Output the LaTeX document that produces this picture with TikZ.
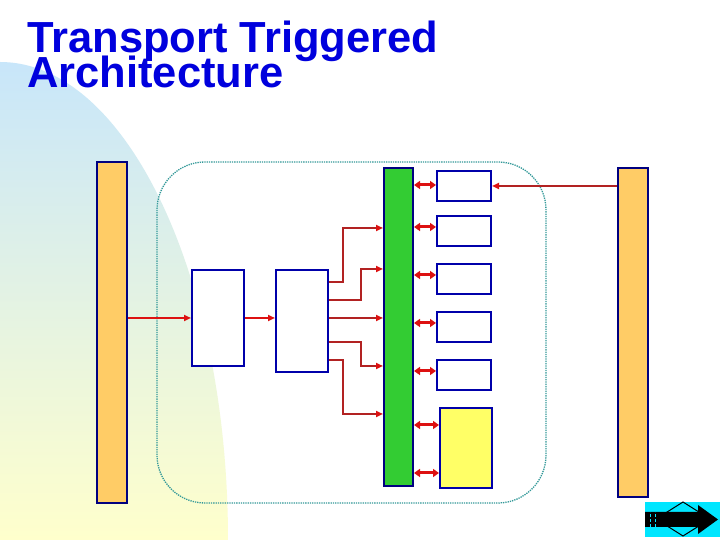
\documentclass[tikz,border=0pt]{standalone}
\usepackage{fontspec}
\setmainfont{Liberation Sans}
\usetikzlibrary{arrows.meta, calc}

\definecolor{titleblue}{RGB}{0,0,221}
\definecolor{barorange}{RGB}{255,204,102}
\definecolor{busgreen}{RGB}{51,204,51}
\definecolor{memyellow}{RGB}{255,255,102}
\definecolor{edgenavy}{RGB}{0,0,128}
\definecolor{boxblue}{RGB}{0,0,170}
\definecolor{wirered}{RGB}{221,17,17}
\definecolor{wiredark}{RGB}{178,34,34}
\definecolor{dotteal}{RGB}{51,153,153}
\definecolor{navcyan}{RGB}{0,230,255}
\definecolor{blobblue}{RGB}{200,230,250}
\definecolor{blobyellow}{RGB}{255,255,204}

\tikzset{
    bar/.style={draw=edgenavy, line width=2pt, fill=barorange, minimum width=30pt, inner sep=0pt},
    unit/.style={draw=boxblue, line width=2pt, fill=white, inner sep=0pt},
    move/.style={wirered, line width=2pt, -{Triangle[length=7pt,width=6pt]}},
    route/.style={wiredark, line width=2.2pt, -{Triangle[length=7pt,width=6pt,fill=wirered,color=wirered]}},
    socket/.style={wirered, line width=3pt, {Triangle[length=6pt,width=8pt]}-{Triangle[length=6pt,width=8pt]}},
    titletext/.style={anchor=base west, inner sep=0pt, text=titleblue, font=\fontsize{43.5}{43.5}\selectfont\bfseries}
}

\begin{document}
\begin{tikzpicture}[x=1pt, y=1pt]
        \useasboundingbox (0,0) rectangle (720,540);
        % Draw background blob
        \fill[white] (0,0) rectangle (720,540);
        \shade[top color=blobblue, bottom color=blobyellow]
            (0,0) -- (0,478)
            arc[start angle=90, end angle=0, x radius=228, y radius=478]
            -- cycle;
        % Title
            \node[titletext] (title) at (27,487) {Transport Triggered};
            \node[titletext] (title2) at (27,452) {Architecture};
        % Dotted frame
            \draw[dotteal, line width=1.3pt, densely dotted, rounded corners=48pt] 
                (157,37) rectangle (546,378);
        % Draw buses and units
            \node[bar, minimum height=341pt] (lbar) at (112,207.5) {};
            \node[bar, minimum height=329pt] (rbar) at (633,207.5) {};
            \node[bar, fill=busgreen, minimum width=29pt, minimum height=318pt] (bus) at (398.5,213) {};
            \node[unit, minimum width=52pt, minimum height=96pt] (fu1) at (218,222) {};
            \node[unit, minimum width=52pt, minimum height=102pt] (fu2) at (302,219) {};
            \node[unit, minimum width=54pt, minimum height=30pt] (r1) at (464,354) {};
            \node[unit, minimum width=54pt, minimum height=30pt] (r2) at (464,309) {};
            \node[unit, minimum width=54pt, minimum height=30pt] (r3) at (464,261) {};
            \node[unit, minimum width=54pt, minimum height=30pt] (r4) at (464,213) {};
            \node[unit, minimum width=54pt, minimum height=30pt] (r5) at (464,165) {};
            \node[unit, fill=memyellow, minimum width=52pt, minimum height=80pt] (mem) at (466,92) {};
        % Straight moves
            \draw[move] (lbar.east |- fu1.west) -- (fu1.west);
            \draw[move] (fu1.east) -- (fu1.east -| fu2.west);
            \draw[route] (rbar.west |- r1.east) -- (r1.east);
        % Routes into the bus
            \draw[route] ([yshift=39pt]fu2.east) -- ++(14,0) |- ([yshift=99pt]bus.west);
            \draw[route] ([yshift=21pt]fu2.east) -- ++(32,0) |- ([yshift=58pt]bus.west);
            \draw[route] (fu2.east |- fu1.east) -- (bus.west |- fu1.east);
            \draw[route] ([yshift=-21pt]fu2.east) -- ++(32,0) |- ([yshift=-39pt]bus.west);
            \draw[route] ([yshift=-39pt]fu2.east) -- ++(14,0) |- ([yshift=-87pt]bus.west);
        % Sockets
            \draw[socket] ($(bus.east |- r1.west)+(0,1)$) -- ($(r1.west)+(0,1)$);
            \draw[socket] ($(bus.east |- r2.west)+(0,4)$) -- ($(r2.west)+(0,4)$);
            \draw[socket] ($(bus.east |- r3.west)+(0,4)$) -- ($(r3.west)+(0,4)$);
            \draw[socket] ($(bus.east |- r4.west)+(0,4)$) -- ($(r4.west)+(0,4)$);
            \draw[socket] ($(bus.east |- r5.west)+(0,4)$) -- ($(r5.west)+(0,4)$);
            \draw[socket] ($(bus.east |- mem.west)+(0,23)$) -- ($(mem.west)+(0,23)$);
            \draw[socket] ($(bus.east |- mem.west)+(0,-25)$) -- ($(mem.west)+(0,-25)$);
        % Next button
            \fill[navcyan] (645,3) rectangle (720,38);
            \draw[black, line width=1pt, fill=navcyan] (656,21) -- (683,38) -- (710,21) -- (683,4) -- cycle;
            \fill[black] (645,13) -- (698,13) -- (698,6) -- (718,20.5) -- (698,35) -- (698,28) -- (645,28) -- cycle;
            \draw[navcyan, densely dashed, line width=0.8pt] (650,13) -- (650,28) (655,13) -- (655,28);
    \end{tikzpicture}
\end{document}
